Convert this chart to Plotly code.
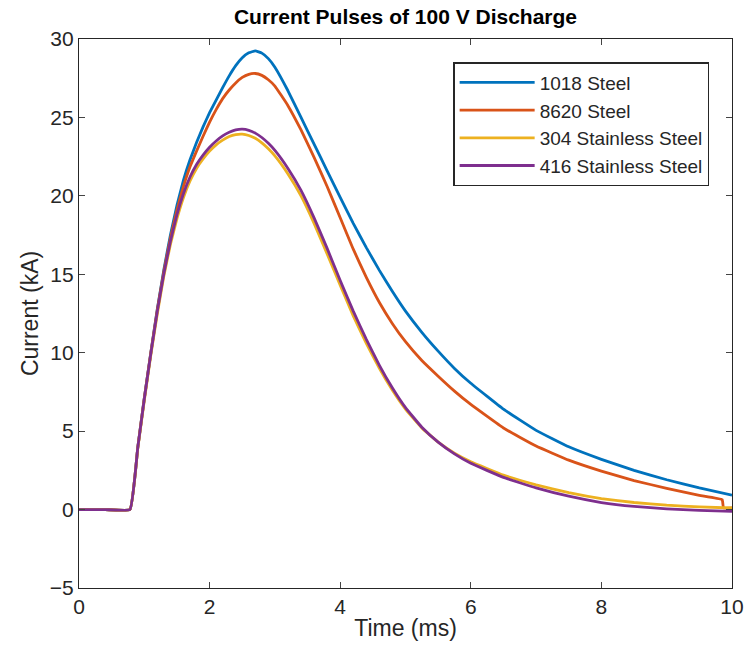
import plotly.graph_objects as go

time_ms = [0.0, 0.4, 0.78, 0.9, 1.0, 1.1, 1.2, 1.3, 1.4, 1.5, 1.6, 1.7, 1.8, 1.9, 2.0,
           2.1, 2.2, 2.3, 2.4, 2.5, 2.6, 2.7, 2.8, 2.9, 3.0, 3.2, 3.4, 3.6, 3.8, 4.0,
           4.2, 4.4, 4.6, 4.8, 5.0, 5.25, 5.5, 5.75, 6.0, 6.5, 7.0, 7.5, 8.0, 8.5, 9.0,
           9.5, 10.0]

steel_1018 = [0.0, 0.0, 0.0,
              3.95, 7.1, 10.0, 12.8, 15.3, 17.5, 19.4, 21.0, 22.3, 23.4, 24.4, 25.3, 26.1,
              26.9, 27.65, 28.3, 28.8, 29.12, 29.24, 29.1, 28.75, 28.2,
              26.7, 25.0, 23.3, 21.6, 19.9, 18.25, 16.7, 15.25, 13.9, 12.65, 11.3, 10.1, 9.0, 8.05,
              6.4, 5.05, 4.0, 3.2, 2.5, 1.9, 1.38, 0.92]

time_8620 = time_ms[:-1] + [9.85, 9.87, 10.0]
steel_8620 = [0.0, 0.0, 0.0,
              3.95, 7.1, 10.0, 12.75, 15.2, 17.3, 19.1, 20.6, 21.85, 22.85, 23.8, 24.7, 25.5,
              26.2, 26.75, 27.2, 27.55, 27.75, 27.8, 27.68, 27.4, 27.0,
              25.75, 24.2, 22.45, 20.6, 18.6, 16.6, 14.8, 13.2, 11.85, 10.7, 9.5, 8.5, 7.55, 6.7,
              5.2, 4.05, 3.15, 2.45, 1.85, 1.35, 0.9, 0.62, 0.1, 0.1]

stainless_304 = [0.0, 0.0, 0.0,
                 3.9, 6.95, 9.85, 12.5, 14.9, 16.9, 18.55, 19.9, 20.95, 21.75, 22.35, 22.85, 23.25,
                 23.55, 23.78, 23.9, 23.93, 23.85, 23.67, 23.38, 23.0, 22.55,
                 21.4, 20.0, 18.25, 16.3, 14.3, 12.35, 10.6, 9.0, 7.6, 6.4, 5.2, 4.3, 3.6, 3.05,
                 2.2, 1.58, 1.08, 0.7, 0.45, 0.28, 0.17, 0.1]

stainless_416 = [0.0, 0.0, 0.0,
                 3.95, 7.05, 9.95, 12.65, 15.05, 17.1, 18.8, 20.15, 21.2, 22.0, 22.6, 23.1, 23.5,
                 23.82, 24.05, 24.2, 24.25, 24.18, 24.0, 23.72, 23.35, 22.9,
                 21.75, 20.35, 18.6, 16.65, 14.6, 12.65, 10.85, 9.2, 7.75, 6.5, 5.25, 4.3, 3.55, 2.95,
                 2.05, 1.38, 0.85, 0.45, 0.2, 0.05, -0.05, -0.12]

series = [
    ("1018 Steel", time_ms, steel_1018, "#0072BD"),
    ("8620 Steel", time_8620, steel_8620, "#D95319"),
    ("304 Stainless Steel", time_ms, stainless_304, "#EDB120"),
    ("416 Stainless Steel", time_ms, stainless_416, "#7E2F8E"),
]

x_ticks = [0, 2, 4, 6, 8, 10]
y_ticks = [-5, 0, 5, 10, 15, 20, 25, 30]

fig = go.Figure()
for name, x, y, color in series:
    fig.add_trace(go.Scatter(x=x, y=y, mode="lines", name=name,
                             line=dict(color=color, width=2.8, shape="spline", smoothing=0.3)))

font_family = "Liberation Sans, Arial, sans-serif"
fig.update_layout(
    width=748, height=652,
    margin=dict(l=79, r=16, t=39, b=64),
    paper_bgcolor="white", plot_bgcolor="white",
    font=dict(family=font_family, color="#262626", size=21),
    title=dict(text="<b>Current Pulses of 100 V Discharge</b>", x=0.5, xref="paper", xanchor="center",
               y=0.974, yref="container", yanchor="middle", font=dict(size=21, color="black")),
    legend=dict(x=0.965, y=0.958, xanchor="right", yanchor="top",
                bgcolor="white", bordercolor="#262626", borderwidth=1.5,
                font=dict(size=19, color="#262626"), tracegroupgap=0, itemwidth=75),
    showlegend=True,
)
fig.update_xaxes(range=[0, 10], tickvals=x_ticks, ticks="inside", ticklen=6,
                 showline=True, linecolor="#262626", linewidth=1.4, mirror="ticks",
                 showgrid=False, zeroline=False, automargin=False,
                 title=dict(text="Time (ms)", font=dict(size=23), standoff=2),
                 tickfont=dict(size=21))
fig.update_yaxes(range=[-5, 30], tickvals=y_ticks, ticks="inside", ticklen=6,
                 showline=True, linecolor="#262626", linewidth=1.4, mirror="ticks",
                 showgrid=False, zeroline=False, automargin=False,
                 title=dict(text="Current (kA)", font=dict(size=23), standoff=4),
                 tickfont=dict(size=21))

fig.write_html("out.html", config={"displayModeBar": False},
               post_script="document.body.style.margin='0px';")
